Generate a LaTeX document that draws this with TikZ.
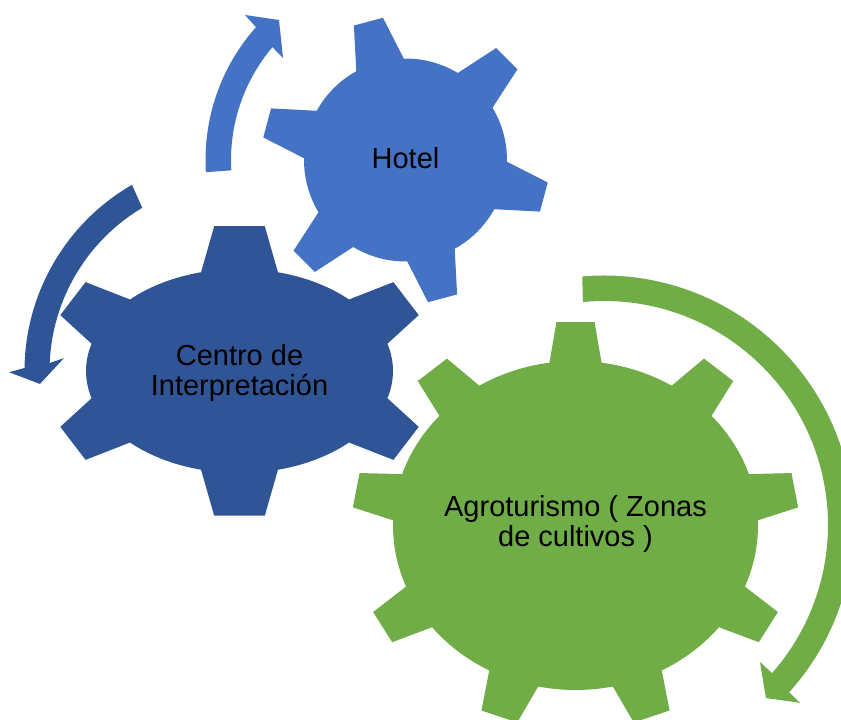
\documentclass[tikz,border=0pt]{standalone}
\usepackage{fontspec}
\setmainfont{Liberation Sans}
\definecolor{hotelc}{HTML}{4472C4}
\definecolor{centroc}{HTML}{2F5597}
\definecolor{agroc}{HTML}{70AD47}
\tikzset{gtext/.style={font=\fontsize{29}{30}\selectfont, align=center, text=black, inner sep=0pt}}
\begin{document}
\begin{tikzpicture}[x=1pt,y=1pt]
\useasboundingbox (0,0) rectangle (841,720);
\clip (0,0) rectangle (841,720);

% ---------- Agroturismo gear (green) ----------
\begin{scope}[shift={(575.5,194.5)}]
\fill[agroc] (10-8.2:182.5pt and 164.5pt)
  \foreach \k [evaluate=\k as \t using 10+40*\k] in {0,...,8} {
    -- (\t-8.2:182.5pt and 164.5pt) -- (\t-4.9:223.5pt and 204pt)
    -- (\t+4.9:223.5pt and 204pt) -- (\t+8.2:182.5pt and 164.5pt)
    arc[start angle=\t+8.2, end angle=\t+31.8, x radius=182.5pt, y radius=164.5pt]
  } -- cycle;
\end{scope}

% ---------- Centro gear (dark blue) ----------
\begin{scope}[shift={(239.5,349)}]
\fill[centroc] (90-14.5:153.5pt and 102pt)
  \foreach \k [evaluate=\k as \t using 90+60*\k] in {0,...,5} {
    -- (\t-14.5:153.5pt and 102pt) -- (\t-7.5:194pt and 146pt)
    -- (\t+7.5:194pt and 146pt) -- (\t+14.5:153.5pt and 102pt)
    arc[start angle=\t+14.5, end angle=\t+45.5, x radius=153.5pt, y radius=102pt]
  } -- cycle;
\end{scope}

% ---------- Hotel gear (light blue) ----------
\begin{scope}[shift={(405.5,560)}]
\fill[hotelc] (105-14:101.5pt)
  \foreach \k [evaluate=\k as \t using 105+60*\k] in {0,...,5} {
    -- (\t-14:101.5pt) -- (\t-6:144pt) -- (\t+6:144pt) -- (\t+14:101.5pt)
    arc[start angle=\t+14, end angle=\t+46, radius=101.5pt]
  } -- cycle;
\end{scope}

% ---------- circular arrows ----------
% Hotel arrow
\begin{scope}[shift={(405.5,560)}]
\fill[hotelc] (183.4:174.5pt) arc[start angle=183.4, end angle=139.7, radius=174.5pt]
  -- (140.2:159.4pt) -- (132.1:188.7pt) -- (137.9:216.3pt) -- (138.4:200pt)
  arc[start angle=138.4, end angle=183.5, radius=200pt] -- cycle;
\end{scope}

% Centro arrow
\begin{scope}[shift={(239.5,349)}]
\fill[centroc] (120.8:190pt) arc[start angle=120.8, end angle=177.6, radius=190pt]
  -- (175.8:176pt) -- (183.7:200pt) -- (180.3:230.5pt) -- (179.2:215pt)
  arc[start angle=179.2, end angle=120.0, radius=215pt] -- cycle;
\end{scope}

% Agroturismo arrow
\begin{scope}[shift={(604,195)}]
\fill[agroc] (95.4:224pt) arc[start angle=95.4, end angle=-41.4, radius=224pt]
  -- (-41.3:207.6pt) -- (-46.9:237pt) -- (-42.2:264.8pt) -- (-42.1:249.5pt)
  arc[start angle=-42.1, end angle=95.0, radius=249.5pt] -- cycle;
\end{scope}

% ---------- labels ----------
\node[gtext, anchor=base] (hotel) at (405.5,551.7) {Hotel};
\node[gtext] (centro) at (239.5,346.8) {Centro de\\Interpretación};
\node[gtext] (agro) at (575.5,195.7) {Agroturismo ( Zonas\\de cultivos )};
\end{tikzpicture}
\end{document}
